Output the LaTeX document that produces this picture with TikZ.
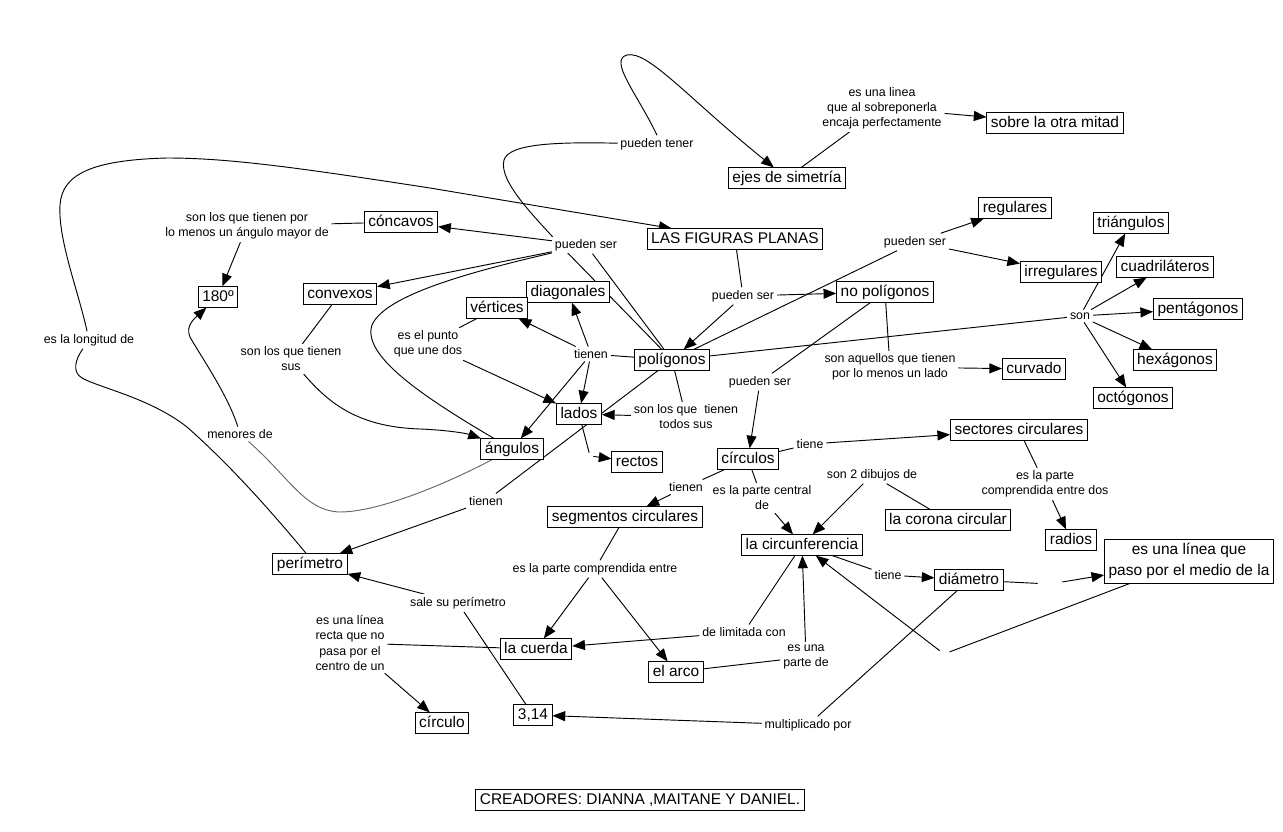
\documentclass[tikz,border=0pt]{standalone}
\usepackage{fontspec}
\setmainfont{Liberation Sans}
\usetikzlibrary{arrows.meta}
\pgfdeclarelayer{bg}
\pgfsetlayers{bg,main}
\begin{document}
\begin{tikzpicture}[x=0.75pt,y=-0.75pt,
  cbox/.style={draw,fill=white,line width=0.7pt,font=\fontsize{11.6}{16}\selectfont,inner xsep=3pt,inner ysep=2pt,align=center},
  concept/.style={cbox,text height=8.6pt,text depth=2.6pt},
  lab/.style={fill=white,font=\fontsize{9.3}{11.3}\selectfont,inner sep=2pt,align=center},
  gapnode/.style={inner sep=0pt},
  con/.style={line width=0.7pt},
  arr/.style={con,-{Triangle[length=9.5pt,width=7.5pt]}},
]
\useasboundingbox (0,0) rectangle (1283,832);
% concepts
\node[concept] (sobre) at (1055,123) {sobre la otra mitad};
\node[concept] (ejes) at (787,178) {ejes de simetría};
\node[concept] (lfp) at (735,239) {LAS FIGURAS PLANAS};
\node[concept] (concavos) at (401,222) {cóncavos};
\node[concept] (c180) at (218,297) {180º};
\node[concept] (convexos) at (340,294) {convexos};
\node[concept] (diagonales) at (568,292) {diagonales};
\node[concept] (vertices) at (497,308) {vértices};
\node[concept] (poligonos) at (672,360) {polígonos};
\node[concept] (lados) at (579,414) {lados};
\node[concept] (angulos) at (512,449) {ángulos};
\node[concept] (rectos) at (637,462) {rectos};
\node[concept] (nopol) at (885,292) {no polígonos};
\node[concept] (regulares) at (1015,208) {regulares};
\node[concept] (irregulares) at (1061,272) {irregulares};
\node[concept] (triangulos) at (1131,223) {triángulos};
\node[concept] (cuadrilateros) at (1165,267) {cuadriláteros};
\node[concept] (pentagonos) at (1198,309) {pentágonos};
\node[concept] (hexagonos) at (1175,360) {hexágonos};
\node[concept] (octogonos) at (1133,398) {octógonos};
\node[concept] (curvado) at (1034,369) {curvado};
\node[concept] (sectores) at (1019,430) {sectores circulares};
\node[concept] (circulos) at (748,459) {círculos};
\node[concept] (segmentos) at (625,517) {segmentos circulares};
\node[concept] (corona) at (948,520) {la corona circular};
\node[concept] (radios) at (1071,540) {radios};
\node[concept] (circunf) at (802,545) {la circunferencia};
\node[cbox,inner ysep=3pt] (linea) at (1189,561) {es una línea que\\paso por el medio de la};
\node[concept] (diametro) at (969,580) {diámetro};
\node[concept] (perimetro) at (310,564) {perímetro};
\node[concept] (cuerda) at (536,649) {la cuerda};
\node[concept] (arco) at (676,672) {el arco};
\node[concept] (pi) at (533,715) {3,14};
\node[concept] (circulo) at (442,723) {círculo};
\node[concept] (creadores) at (640,800) {CREADORES: DIANNA ,MAITANE Y DANIEL.};
% linking phrases
\node[lab] (l1) at (882,108) {es una linea\\que al sobreponerla\\encaja perfectamente};
\node[lab] (l2) at (657,144) {pueden tener};
\node[lab] (l3) at (247,226) {son los que tienen por\\lo menos un ángulo mayor de};
\node[lab] (l4) at (586,245) {pueden ser};
\node[lab] (l5) at (743,296) {pueden ser};
\node[lab] (l6) at (915,242) {pueden ser};
\node[lab] (l7) at (1080,316) {son};
\node[lab] (l8) at (428,344) {es el punto\\que une dos};
\node[lab] (l9) at (291,359) {son los que tienen\\sus};
\node[lab] (l10) at (89,340) {es la longitud de};
\node[lab] (l11) at (591,354) {tienen};
\node[lab] (l12) at (686,417) {son los que\ \ tienen\\todos sus};
\node[lab] (l13) at (240,434) {menores de};
\node[lab] (l14) at (486,501) {tienen};
\node[lab] (l15) at (760,382) {pueden ser};
\node[lab] (l16) at (890,367) {son aquellos que tienen\\por lo menos un lado};
\node[lab] (l17) at (810,444) {tiene};
\node[lab] (l18) at (686,487) {tienen};
\node[lab] (l19) at (762,498) {es la parte central\\de};
\node[lab] (l20) at (872,475) {son 2 dibujos de};
\node[lab] (l21) at (1045,484) {es la parte\\comprendida entre dos};
\node[lab] (l22) at (595,569) {es la parte comprendida entre};
\node[lab] (l23) at (888,575) {tiene};
\node[lab] (l24) at (458,603) {sale su perímetro};
\node[lab] (l25) at (350,643) {es una línea\\recta que no\\pasa por el\\centro de un};
\node[lab] (l26) at (744,632) {de limitada con};
\node[lab] (l27) at (806,657) {es una\\parte de};
\node[lab] (l28) at (808,725) {multiplicado por};
\node[gapnode,minimum width=4.5pt,minimum height=4.5pt] (e1) at (590,456) {};
\node[gapnode,minimum width=18pt,minimum height=4.5pt] (e2) at (1050,584) {};
\node[gapnode,minimum width=8pt,minimum height=4.5pt] (e3) at (944,654) {};

\begin{pgfonlayer}{bg}
% top
\draw[arr] (l2.north) .. controls (638,95) and (608,60) .. (627,55) .. controls (648,50) and (690,100) .. (ejes);
\draw[con] (poligonos) -- (560,245) .. controls (538,220) and (498,182) .. (504,160) .. controls (509,143) and (560,142) .. (l2);
\draw[con] (ejes) -- (l1);
\draw[arr] (l1) -- (sobre);
% big curve
\draw[con] (perimetro.110) .. controls (270,510) and (230,465) .. (187,427) .. controls (150,398) and (100,388) .. (82,378) .. controls (72,372) and (75,360) .. (l10);
\draw[arr] (l10) .. controls (78,290) and (58,240) .. (60,205) .. controls (62,175) and (90,160) .. (167,158) .. controls (230,158) and (300,168) .. (430,188) -- (lfp);
% figuras planas
\draw[con] (lfp) -- (l5);
\draw[arr] (l5) -- (poligonos);
\draw[arr] (l5) -- (nopol);
% poligonos
\draw[con] (poligonos) -- (l6);
\draw[arr] (l6) -- (regulares);
\draw[arr] (l6) -- (irregulares);
\draw[con] (poligonos) -- (l7);
\draw[arr] (l7) -- (triangulos);
\draw[arr] (l7) -- (cuadrilateros);
\draw[arr] (l7) -- (pentagonos);
\draw[arr] (l7) -- (hexagonos);
\draw[arr] (l7) -- (octogonos);
\draw[con] (l4) -- (poligonos);
\draw[arr] (l4) -- (concavos);
\draw[arr] (l4) -- (convexos);
\draw[con] (angulos) .. controls (420,395) and (362,355) .. (372,325) .. controls (385,295) and (470,272) .. (l4);
\draw[con] (concavos) -- (l3);
\draw[arr] (l3) -- (c180);
\draw[con] (convexos) -- (l9);
\draw[arr] (l9) .. controls (330,405) and (360,427) .. (420,429) .. controls (445,430) and (465,433) .. (angulos);
\draw[con] (poligonos) -- (l11);
\draw[arr] (l11) -- (vertices);
\draw[arr] (l11) -- (diagonales);
\draw[arr] (l11) -- (lados);
\draw[arr] (l11) -- (angulos);
\draw[con] (vertices) -- (l8);
\draw[arr] (l8) -- (lados);
\draw[con] (poligonos) -- (l12);
\draw[arr] (l12) -- (lados);
\draw[con] (lados) -- (e1);
\draw[arr] (e1) -- (rectos);
\draw[con] (poligonos) -- (l14);
\draw[arr] (l14) -- (perimetro);
\draw[con,black!60] (angulos) .. controls (450,482) and (380,512) .. (340,512) .. controls (305,511) and (290,478) .. (l13);
\draw[arr] (l13) .. controls (228,395) and (200,355) .. (190,337) .. controls (185,326) and (195,318) .. (c180);
% no poligonos
\draw[con] (nopol) -- (l16);
\draw[arr] (l16) -- (curvado);
\draw[con] (nopol) -- (l15);
\draw[arr] (l15) -- (circulos);
% circulos
\draw[con] (circulos) -- (l17);
\draw[arr] (l17) -- (sectores);
\draw[con] (circulos) -- (l18);
\draw[arr] (l18) -- (segmentos);
\draw[con] (circulos) -- (l19);
\draw[arr] (l19) -- (circunf);
\draw[con] (corona) -- (l20);
\draw[arr] (l20) -- (circunf);
\draw[con] (sectores) -- (l21);
\draw[arr] (l21) -- (radios);
\draw[con] (segmentos) -- (l22);
\draw[arr] (l22) -- (cuerda);
\draw[arr] (l22) -- (arco);
\draw[con] (circunf) -- (l23);
\draw[arr] (l23) -- (diametro);
\draw[con] (circunf) -- (l26);
\draw[arr] (l26) -- (cuerda);
\draw[con] (arco) -- (l27);
\draw[arr] (l27) -- (circunf);
\draw[con] (diametro) -- (e2);
\draw[arr] (e2) -- (linea);
\draw[con] (linea) -- (e3);
\draw[arr] (e3) -- (circunf);
\draw[con] (diametro) -- (l28);
\draw[arr] (l28) -- (pi);
\draw[con] (pi) -- (l24);
\draw[arr] (l24) -- (perimetro);
\draw[con] (cuerda) -- (l25);
\draw[arr] (l25) -- (circulo);
\end{pgfonlayer}
\end{tikzpicture}
\end{document}
